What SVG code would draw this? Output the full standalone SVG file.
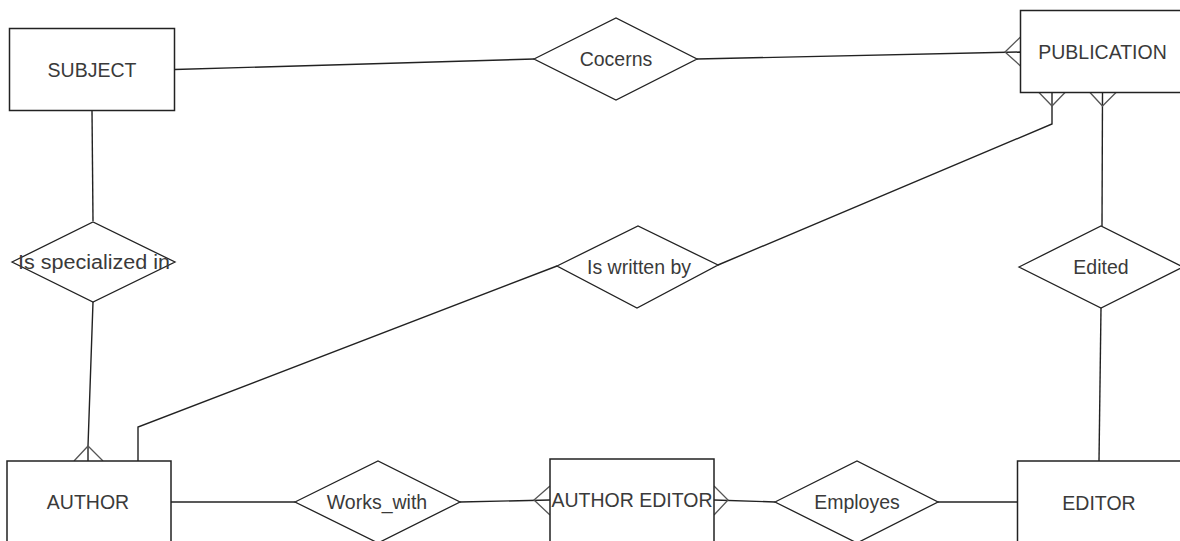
<svg xmlns="http://www.w3.org/2000/svg" width="1180" height="541" viewBox="0 0 1180 541">
<style>
.ent{fill:#fff;stroke:#222;stroke-width:1.5}
.rel{fill:#fff;stroke:#222;stroke-width:1.3}
.t{font-family:"Liberation Sans",Arial,sans-serif;font-size:19.5px;fill:#3a3a3a;text-anchor:middle;dominant-baseline:central}
.c{fill:none;stroke:#222;stroke-width:1.4}
.cf{fill:none;stroke:#555;stroke-width:1.3}
</style>
<rect width="1180" height="541" fill="#fff"/>
<g id="connectors">
<path class="c" d="M174.5,69.5 L534,59"/>
<path class="c" d="M697,59 L1020.5,52"/>
<path class="cf" d="M1020.5,37 L1005,52 L1020.5,66"/>
<path class="c" d="M92,110.5 L93,221"/>
<path class="c" d="M93,302 L88,446 L88,461"/>
<path class="cf" d="M74,461 L88,446 L103,461"/>
<path class="c" d="M138,461 L138,427 L557,266"/>
<path class="c" d="M718,265 L1052,124 L1052,92"/>
<path class="cf" d="M1039,92.5 L1052,106 L1065,92.5"/>
<path class="c" d="M1102.5,92.5 L1102,226"/>
<path class="cf" d="M1090,92.5 L1102.5,106 L1116,92.5"/>
<path class="c" d="M1101,308 L1099,461"/>
<path class="c" d="M171,502 L295,502"/>
<path class="c" d="M460,502 L550,500"/>
<path class="cf" d="M550,486 L534,500 L550,515"/>
<path class="c" d="M714,500 L775,502"/>
<path class="cf" d="M714,486 L728,500 L714,515"/>
<path class="c" d="M938,502 L1017.5,502"/>
</g>
<g id="subject"><rect class="ent" x="9.5" y="28.5" width="165" height="82"/><text class="t" x="92" y="70">SUBJECT</text></g>
<g id="publication"><rect class="ent" x="1020.5" y="10.5" width="165" height="82"/><text class="t" x="1102.5" y="52">PUBLICATION</text></g>
<g id="author"><rect class="ent" x="7" y="461" width="164" height="90"/><text class="t" x="88" y="502">AUTHOR</text></g>
<g id="author-editor"><rect class="ent" x="550" y="459" width="164" height="90"/><text class="t" x="632" y="500">AUTHOR EDITOR</text></g>
<g id="editor"><rect class="ent" x="1017.5" y="461" width="165" height="90"/><text class="t" x="1099" y="503">EDITOR</text></g>
<g id="cocerns"><polygon class="rel" points="534,59 616,18 697,59 616,100"/><text class="t" x="616" y="59">Cocerns</text></g>
<g id="is-specialized-in"><polygon class="rel" points="12,262 93,222 175,262 93,302"/><text class="t" x="94" y="262" textLength="152" lengthAdjust="spacingAndGlyphs">Is specialized in</text></g>
<g id="is-written-by"><polygon class="rel" points="557,266 638,226 718,265 637,308"/><text class="t" x="639" y="267">Is written by</text></g>
<g id="edited"><polygon class="rel" points="1019,267 1101,226 1183,267 1101,308"/><text class="t" x="1101" y="267">Edited</text></g>
<g id="works-with"><polygon class="rel" points="295,502 378,461 460,502 378,543"/><text class="t" x="377" y="502">Works_with</text></g>
<g id="employes"><polygon class="rel" points="775,502 857,461 938,502 857,543"/><text class="t" x="857" y="502">Employes</text></g>
</svg>
